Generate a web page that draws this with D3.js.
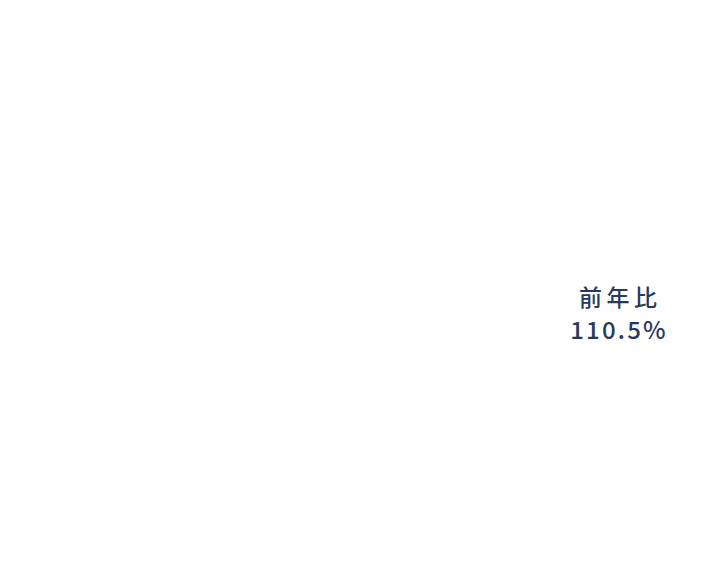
<!DOCTYPE html>
<html>
<head>
<meta charset="utf-8">
<script src="https://cdn.jsdelivr.net/npm/d3@7"></script>
<style>
  body { margin: 0; background: #fff; }
</style>
</head>
<body>
<div id="chart"></div>
<script>
var width = 711, height = 580;

// ratio label shown beside the (empty) chart area
var ratioLabel = "前年比"
var ratioValue = 110.5

var svg = d3.select("#chart").append("svg")
    .attr("width", width)
    .attr("height", height)

var g = svg.append("g")
    .attr("transform", "translate(" + 618 + "," + 0 + ")")

g.append("text")
    .attr("x", 2.25)
    .attr("y", 306)
    .attr("text-anchor", "middle")
    .style("font-family", "'Noto Sans CJK JP', 'Noto Sans', sans-serif")
    .style("font-size", "23px")
    .style("font-weight", "500")
    .style("letter-spacing", "4.5px")
    .style("fill", "#273a5e")
    .text(ratioLabel)

g.append("text")
    .attr("x", 1)
    .attr("y", 339)
    .attr("text-anchor", "middle")
    .style("font-family", "'Noto Sans CJK JP', 'Noto Sans', sans-serif")
    .style("font-size", "24px")
    .style("font-weight", "500")
    .style("letter-spacing", "2.2px")
    .style("fill", "#273a5e")
    .text(d3.format(".1f")(ratioValue) + "%")
</script>
</body>
</html>
